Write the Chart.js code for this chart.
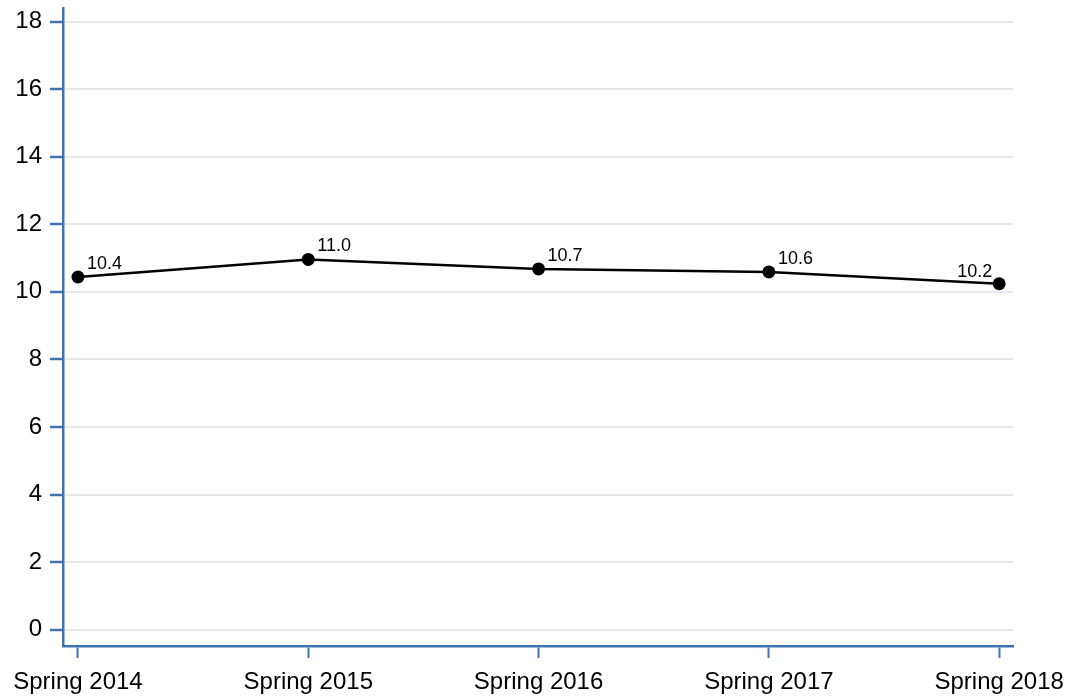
<!DOCTYPE html>
<html>
<head>
<meta charset="utf-8">
<script src="https://cdn.jsdelivr.net/npm/chart.js@4.4.0/dist/chart.umd.min.js"></script>
<style>
  html, body { margin: 0; padding: 0; background: #fff; }
  #wrap { width: 1074px; height: 698px; }
</style>
</head>
<body>
<div id="wrap"><canvas id="chart" width="1074" height="698"></canvas></div>
<script>
const categories = ['Spring 2014', 'Spring 2015', 'Spring 2016', 'Spring 2017', 'Spring 2018'];
const values = [10.44, 10.96, 10.68, 10.59, 10.24];
const yTicks = [0, 2, 4, 6, 8, 10, 12, 14, 16, 18];

const axisBlue = '#3e74b0';
const font = 'Liberation Sans, Arial, sans-serif';

// draws the value next to each point (last one goes to the left)
const pointLabels = {
    id: 'pointLabels',
    afterDatasetsDraw(chart) {
        const ctx = chart.ctx;
        const meta = chart.getDatasetMeta(0);
        ctx.save();
        ctx.font = '18px ' + font;
        ctx.fillStyle = '#000';
        ctx.textBaseline = 'alphabetic';
        meta.data.forEach((pt, i) => {
            const txt = values[i].toFixed(1);
            if (i === meta.data.length - 1) {
                ctx.textAlign = 'right';
                ctx.fillText(txt, pt.x - 7, pt.y - 7);
            } else {
                ctx.textAlign = 'left';
                ctx.fillText(txt, pt.x + 9, pt.y - 8);
            }
        });
        ctx.restore();
    }
};

const ctx = document.getElementById('chart').getContext('2d');
new Chart(ctx, {
    type: 'line',
    data: {
        datasets: [{
            data: values.map((v, i) => ({ x: i, y: v })),
            borderColor: '#000',
            borderWidth: 2.5,
            pointRadius: 6.5,
            pointBackgroundColor: '#000',
            pointBorderColor: '#000',
            pointBorderWidth: 0,
            tension: 0,
            fill: false
        }]
    },
    options: {
        responsive: false,
        animation: false,
        layout: { padding: { left: 0, right: 61, top: 8, bottom: 0 } },
        plugins: {
            legend: { display: false },
            tooltip: { enabled: false }
        },
        scales: {
            x: {
                type: 'linear',
                min: -0.065,
                max: 4.06,
                afterFit: s => { s.height = 52; s.paddingLeft = 0; s.paddingRight = 0; },
                afterBuildTicks: s => { s.ticks = categories.map((c, i) => ({ value: i })); },
                ticks: {
                    callback: v => categories[v],
                    font: { family: font, size: 24 },
                    color: '#000',
                    padding: 10,
                    maxRotation: 0,
                    autoSkip: false
                },
                grid: {
                    drawOnChartArea: false,
                    drawTicks: true,
                    tickLength: 12,
                    tickColor: axisBlue,
                    tickWidth: 2
                },
                border: { color: axisBlue, width: 2.5 }
            },
            y: {
                min: -0.48,
                max: 18.4,
                afterFit: s => { s.width = 63; s.paddingTop = 0; s.paddingBottom = 0; },
                afterBuildTicks: s => { s.ticks = yTicks.map(v => ({ value: v })); },
                ticks: {
                    font: { family: font, size: 24 },
                    color: '#000',
                    padding: 8
                },
                grid: {
                    color: '#e8e8ec',
                    lineWidth: 2,
                    drawTicks: true,
                    tickLength: 13,
                    tickColor: axisBlue,
                    tickWidth: 2.5
                },
                border: { color: axisBlue, width: 2.5 }
            }
        }
    },
    plugins: [pointLabels]
});
</script>
</body>
</html>
